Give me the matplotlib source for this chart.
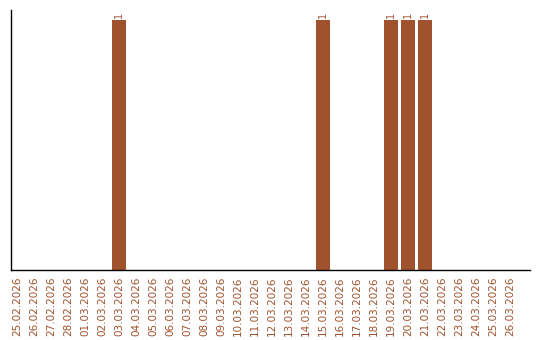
import matplotlib
matplotlib.use("Agg")
import matplotlib.pyplot as plt

dates = ["25.02.2026", "26.02.2026", "27.02.2026", "28.02.2026", "01.03.2026",
         "02.03.2026", "03.03.2026", "04.03.2026", "05.03.2026", "06.03.2026",
         "07.03.2026", "08.03.2026", "09.03.2026", "10.03.2026", "11.03.2026",
         "12.03.2026", "13.03.2026", "14.03.2026", "15.03.2026", "16.03.2026",
         "17.03.2026", "18.03.2026", "19.03.2026", "20.03.2026", "21.03.2026",
         "22.03.2026", "23.03.2026", "24.03.2026", "25.03.2026", "26.03.2026"]
counts = [0, 0, 0, 0, 0, 0, 1, 0, 0, 0, 0, 0, 0, 0, 0, 0, 0, 0, 1, 0,
          0, 0, 1, 1, 1, 0, 0, 0, 0, 0]

color = "#A0522D"
W, H = 540, 340
fig = plt.figure(figsize=(W / 100, H / 100), dpi=100)
ax = fig.add_axes([11 / W, (H - 270) / H, (530 - 11) / W, (270 - 10) / H])

x = list(range(len(dates)))
ax.bar(x, counts, width=0.82, color=color)
for xi, v in zip(x, counts):
    if v > 0:
        ax.text(xi, v + 0.01, str(v), rotation=90, ha="center", va="bottom",
                fontsize=7, color=color)

ax.set_xlim(-0.35, 30.18)
ax.set_ylim(0, 1.04)
ax.set_xticks(x)
ax.set_xticklabels(dates, rotation=90, fontsize=7.5, color=color)
ax.tick_params(axis="x", length=0, pad=5)
ax.set_yticks([])
for s in ["top", "right"]:
    ax.spines[s].set_visible(False)
for s in ["left", "bottom"]:
    ax.spines[s].set_linewidth(1)
    ax.spines[s].set_color("black")

fig.savefig("out.png", dpi=100)
